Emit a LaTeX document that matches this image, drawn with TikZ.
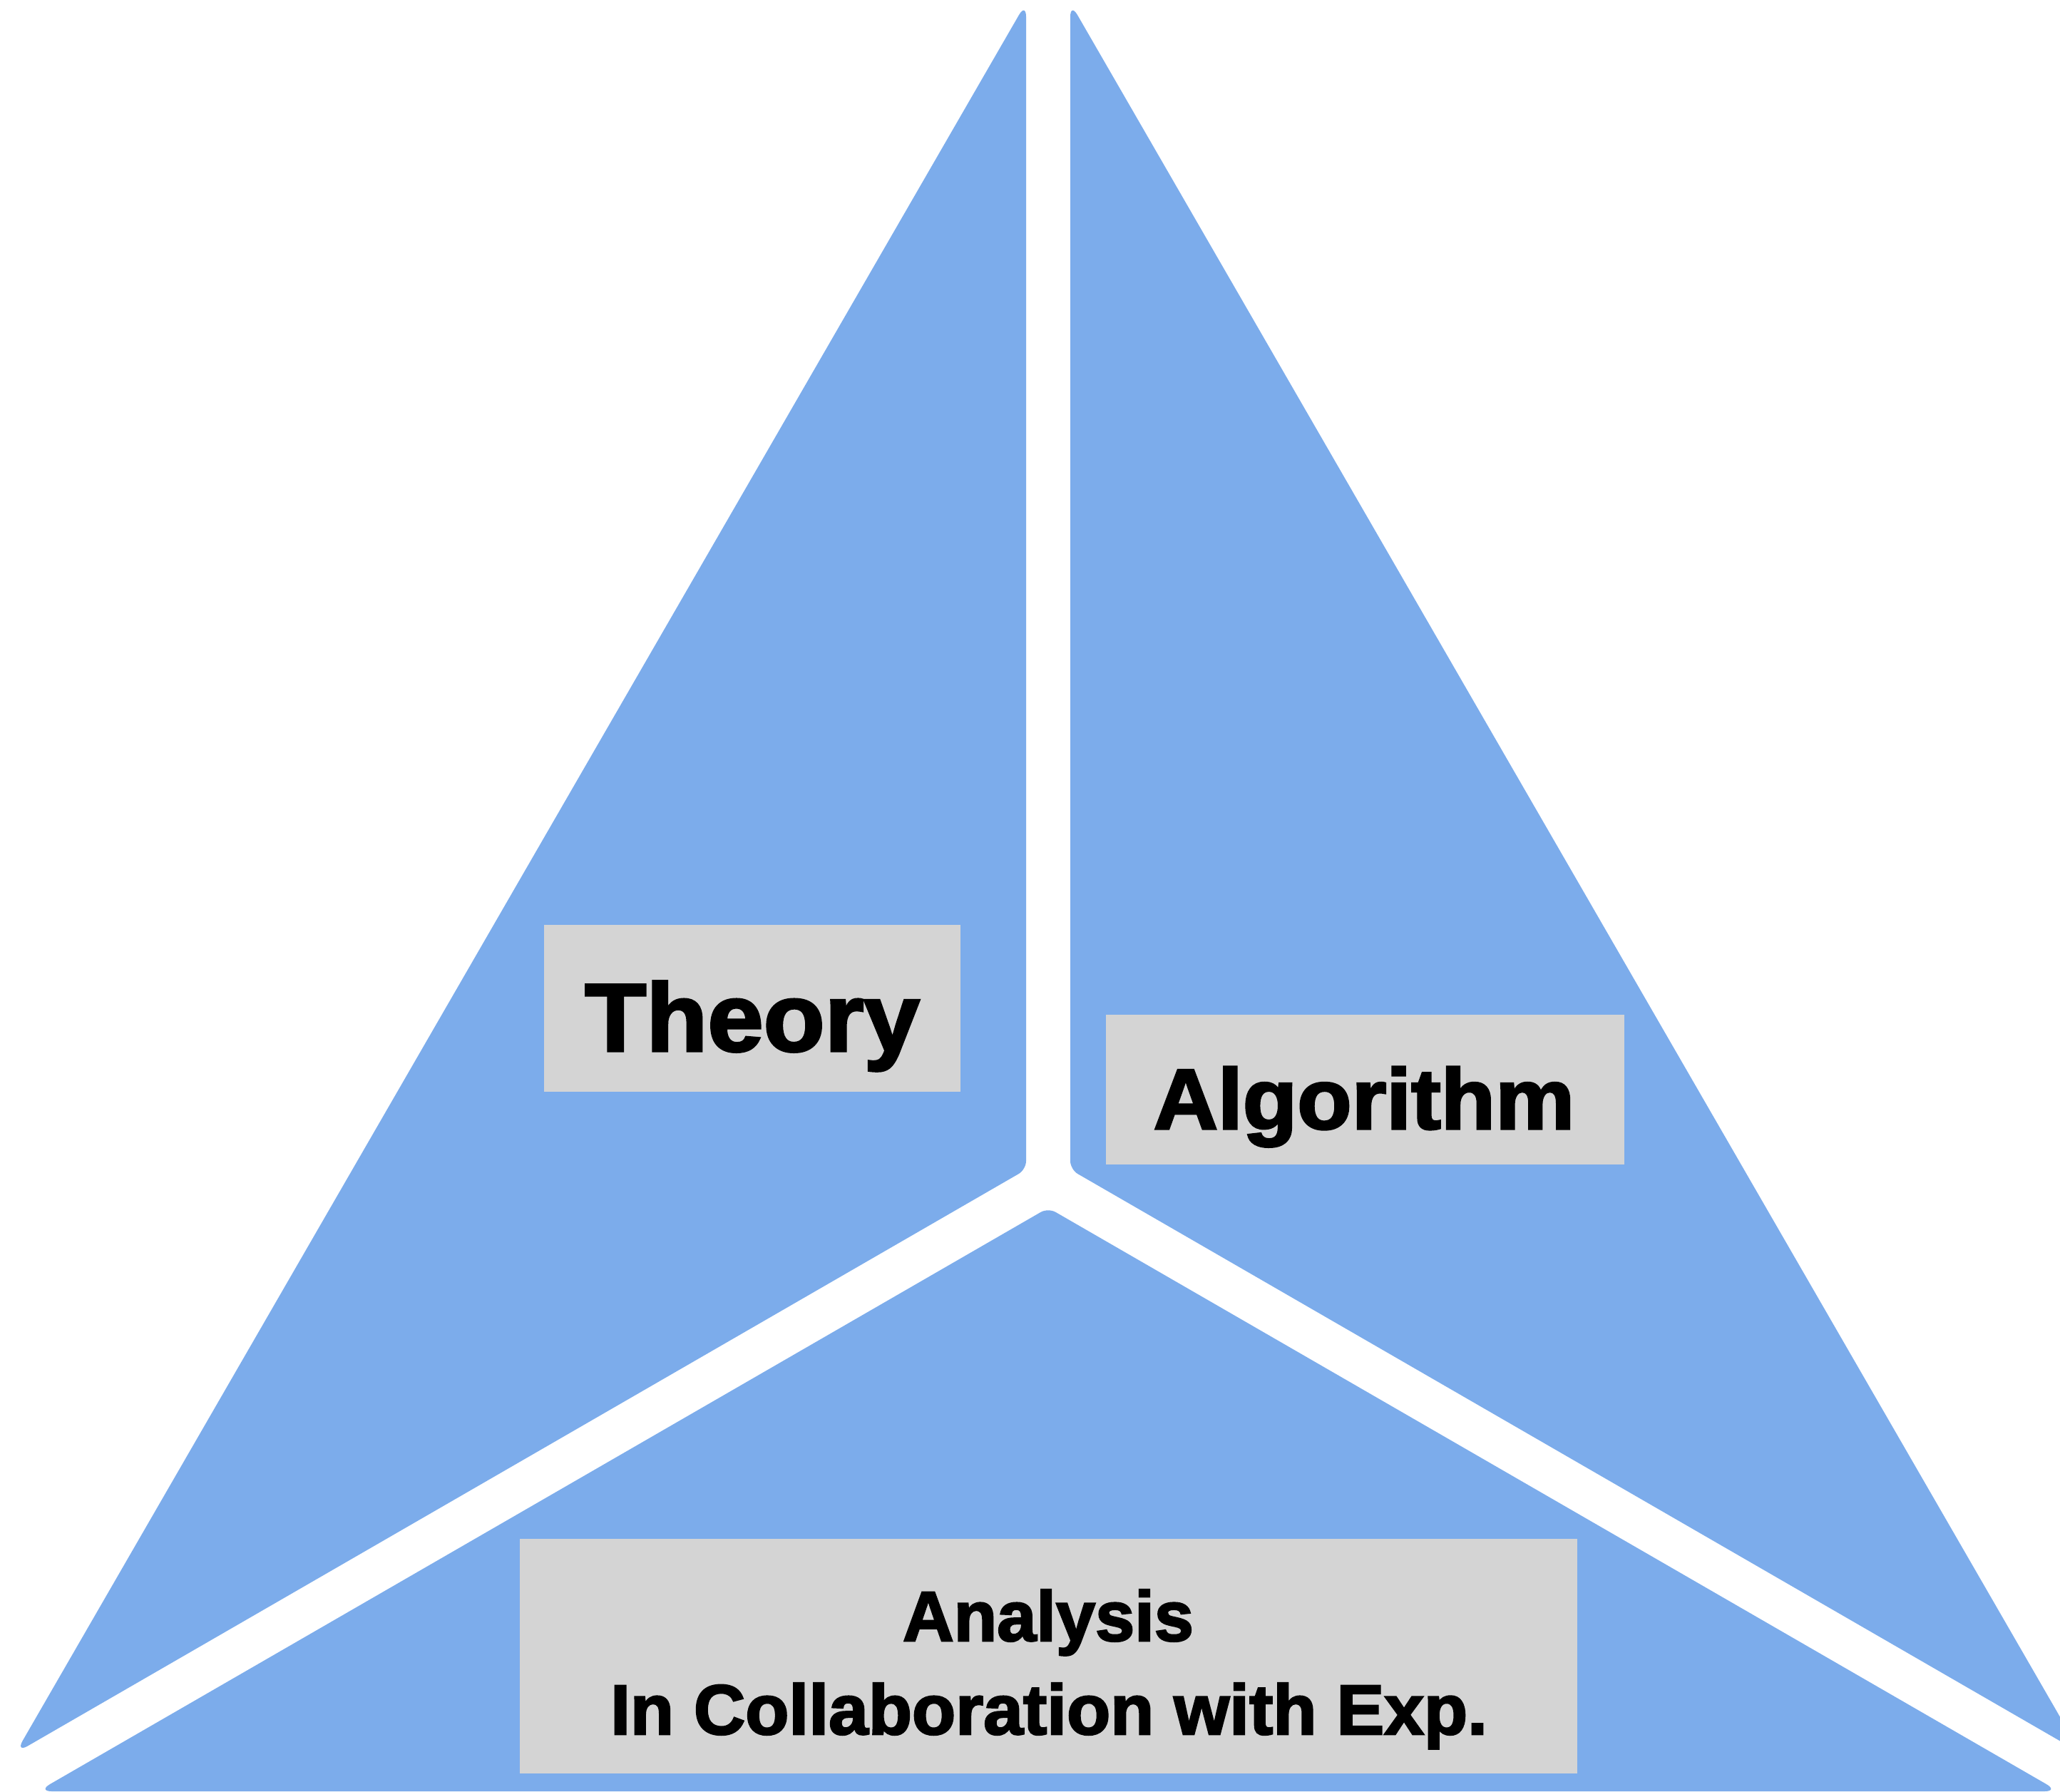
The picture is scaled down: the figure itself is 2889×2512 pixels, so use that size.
\documentclass[tikz,border=0pt]{standalone}
\usepackage{fontspec}
\newfontfamily\lab{Liberation Sans}[BoldFeatures={FakeBold=2.5}]
\definecolor{piece}{RGB}{124,172,235}
\definecolor{boxgray}{RGB}{212,212,212}
\tikzset{
  piecefill/.style={fill=piece},
  acute/.style={rounded corners=0.2cm},
  obtuse/.style={rounded corners=0.12cm},
  graybox/.style={fill=boxgray, draw=none, inner sep=0pt, rectangle},
  lbl/.style={inner sep=0pt, anchor=base, text=black, font=\lab\bfseries}
}
\begin{document}
\begin{tikzpicture}[x=0.01cm, y=-0.01cm]
\useasboundingbox (0,0) rectangle (2889,2512);
\clip (0,0) rectangle (2889,2512);
% three pieces
\path[piecefill] (730.4,1231) [acute] -- (1439,3.7) [obtuse] -- (1439,1640.1) [acute] -- (21.8,2458.3) -- cycle;
\path[piecefill] (2209.6,1231) [acute] -- (1501,3.7) [obtuse] -- (1501,1640.1) [acute] -- (2918.2,2458.3) -- cycle;
\path[piecefill] (1470,2512) [acute] -- (52.8,2512) [obtuse] -- (1470,1693.8) [acute] -- (2887.2,2512) -- cycle;
% boxes
\node[graybox, minimum width=5.84cm, minimum height=2.34cm] (theorybox) at (1055,1414) {};
\node[graybox, minimum width=7.27cm, minimum height=2.10cm] (algobox) at (1914.5,1528) {};
\node[graybox, minimum width=14.83cm, minimum height=3.29cm] (anabox) at (1470.5,2322.5) {};
% labels
\node[lbl, font=\lab\bfseries\fontsize{38.5pt}{40pt}\selectfont] (theory) at (1055,1474) {\scalebox{1.04}[1]{Theory}};
\node[lbl, font=\lab\bfseries\fontsize{34.2pt}{36pt}\selectfont] (algo) at (1913,1583) {\scalebox{1.04}[1]{Algorithm}};
\node[lbl, font=\lab\bfseries\fontsize{28.2pt}{30pt}\selectfont] (ana1) at (1470,2301) {Analysis};
\node[lbl, font=\lab\bfseries\fontsize{28.2pt}{30pt}\selectfont] (ana2) at (1471,2432) {\scalebox{1.01}[1]{In Collaboration with Exp.}};
\end{tikzpicture}
\end{document}
